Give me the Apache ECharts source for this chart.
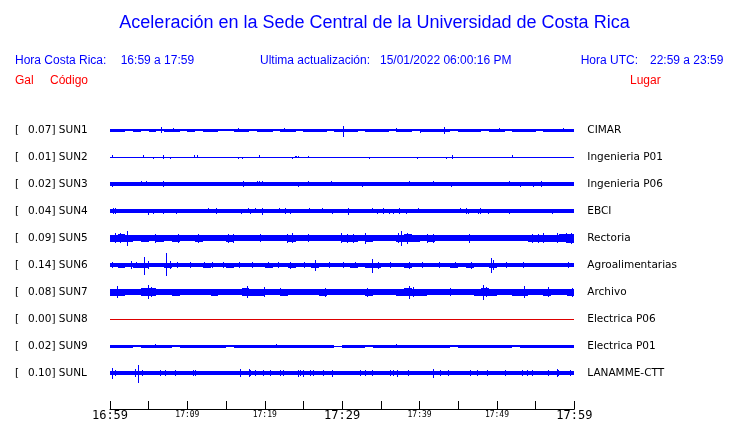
<!DOCTYPE html>
<html>
<head>
<meta charset="utf-8">
<script src="https://cdn.jsdelivr.net/npm/echarts@6/dist/echarts.min.js"></script>
<style>
  html, body { margin: 0; padding: 0; background: #fff; }
  #chart { width: 740px; height: 423px; }
</style>
</head>
<body>
<div id="chart"></div>
<script>
// ---------------- DATA ----------------
const TITLE = 'Aceleración en la Sede Central de la Universidad de Costa Rica';
const HORA_CR = '16:59 a 17:59';
const HORA_UTC = '22:59 a 23:59';
const ULTIMA = '15/01/2022 06:00:16 PM';

const CODES  = ['SUN1','SUN2','SUN3','SUN4','SUN5','SUN6','SUN7','SUN8','SUN9','SUNL'];
const GAL    = ['0.07','0.01','0.02','0.04','0.09','0.14','0.08','0.00','0.02','0.10'];
const PLACES = ['CIMAR','Ingenieria P01','Ingenieria P06','EBCI','Rectoria','Agroalimentarias','Archivo','Electrica P06','Electrica P01','LANAMME-CTT'];

// time axis: minutes after 16:59, tick every 5 minutes
const TIME_LABELS = ['16:59','','17:09','','17:19','','17:29','','17:39','','17:49','','17:59'];
const BIG_LABELS = ['16:59','17:29','17:59'];

// per-minute envelope half-widths (display units) for each station, minutes 0..59
const amp_SUN1 = [1.5,1.5,1.0,1.5,1.2,1.5,1.0,1.5,1.5,1.2,1.5,1.0,1.5,1.5,1.2,1.0,1.5,1.5,1.2,1.5,1.5,1.0,1.5,1.5,1.2,1.5,1.5,1.5,1.2,1.5,1.5,1.5,1.2,1.5,1.5,1.5,1.2,1.5,1.5,1.2,1.5,1.5,1.5,1.5,1.2,1.5,1.5,1.5,1.2,1.5,1.5,1.2,1.5,1.5,1.5,1.2,1.5,1.5,1.5,1.5];
const amp_SUN2 = [0.5,0.5,0.5,0.5,0.5,0.5,0.5,0.5,0.5,0.5,0.5,0.5,0.5,0.5,0.5,0.5,0.5,0.5,0.5,0.5,0.5,0.5,0.5,0.5,0.5,0.5,0.5,0.5,0.5,0.5,0.5,0.5,0.5,0.5,0.5,0.5,0.5,0.5,0.5,0.5,0.5,0.5,0.5,0.5,0.5,0.5,0.5,0.5,0.5,0.5,0.5,0.5,0.5,0.5,0.5,0.5,0.5,0.5,0.5,0.5];
const amp_SUN3 = [1.8,1.8,1.8,1.8,1.8,1.8,1.8,1.8,1.8,1.8,1.8,1.8,1.8,1.8,1.8,1.8,1.8,1.8,1.8,1.8,1.8,1.8,1.8,1.8,1.8,1.8,1.8,1.8,1.8,1.8,1.8,1.8,1.8,1.8,1.8,1.8,1.8,1.8,1.8,1.8,1.8,1.8,1.8,1.8,1.8,1.8,1.8,1.8,1.8,1.8,1.8,1.8,1.8,1.8,1.8,1.8,1.8,1.8,1.8,1.8];
const amp_SUN4 = [2.2,1.8,1.8,1.8,1.8,1.8,1.8,1.8,1.8,1.8,1.8,1.8,1.8,1.8,1.8,1.8,1.8,1.8,1.8,1.8,1.8,1.8,1.8,1.8,1.8,1.8,1.8,1.8,1.8,1.8,1.8,1.8,1.8,1.8,1.8,1.8,1.8,1.8,1.8,1.8,1.8,1.8,1.8,1.8,1.8,1.8,1.8,1.8,1.8,1.8,1.8,1.8,1.8,1.8,1.8,1.8,1.8,1.8,1.8,1.8];
const amp_SUN5 = [3.5,4.0,3.5,3.0,3.5,3.0,3.5,3.0,3.5,3.0,3.0,3.5,3.0,3.0,3.0,3.5,3.0,3.0,3.0,3.0,3.0,3.0,3.0,3.5,3.0,3.0,3.0,3.0,3.0,3.0,3.5,3.5,3.0,3.5,3.0,3.0,3.0,3.5,4.0,3.5,3.0,3.5,3.0,3.0,3.0,3.0,3.0,3.0,3.0,3.0,3.0,3.0,3.0,3.0,3.5,3.5,3.5,3.5,4.0,4.5];
const amp_SUN6 = [2.0,2.5,2.0,2.5,2.5,2.0,2.0,2.5,2.0,2.0,2.0,2.0,2.5,2.0,2.0,2.5,2.0,2.0,2.0,2.0,2.5,2.0,2.0,2.5,2.0,2.0,2.5,2.0,2.0,2.0,2.0,2.5,2.0,2.5,2.5,2.0,2.0,2.0,2.5,2.0,2.0,2.0,2.0,2.0,2.5,2.0,2.5,2.0,2.0,2.5,2.0,2.0,2.0,2.0,2.0,2.0,2.0,2.0,2.0,2.0];
const amp_SUN7 = [3.5,3.5,3.0,3.0,4.0,4.0,3.0,3.0,3.5,3.0,3.0,3.0,3.0,3.5,3.0,3.0,3.0,4.0,3.5,3.5,3.0,3.0,3.5,3.0,3.0,3.0,3.0,3.5,3.0,3.0,3.0,3.0,3.0,3.5,3.0,3.0,3.0,3.5,4.0,3.5,3.5,3.0,3.0,3.0,3.0,3.0,3.0,3.5,4.0,3.5,3.0,3.0,3.5,3.5,3.0,3.0,3.5,3.0,3.0,3.5];
const amp_SUN8 = [0,0,0,0,0,0,0,0,0,0,0,0,0,0,0,0,0,0,0,0,0,0,0,0,0,0,0,0,0,0,0,0,0,0,0,0,0,0,0,0,0,0,0,0,0,0,0,0,0,0,0,0,0,0,0,0,0,0,0,0];
const amp_SUN9 = [1.5,1.5,1.5,1.0,1.5,1.5,1.5,1.5,1.0,1.5,1.5,1.5,1.5,1.5,1.5,1.0,1.5,1.5,1.5,1.5,1.5,1.5,1.5,1.5,1.5,1.5,1.5,1.5,1.5,0.5,1.5,1.5,1.5,1.0,1.5,1.5,1.5,1.5,1.5,1.5,1.5,1.5,1.5,1.5,1.0,1.5,1.5,1.5,1.5,1.5,1.5,1.5,1.0,1.5,1.5,1.5,1.5,1.5,1.5,1.5];
const amp_SUNL = [2.0,1.8,1.8,1.8,1.8,1.8,1.8,1.8,1.8,1.8,1.8,1.8,1.8,1.8,1.8,1.8,1.8,1.8,1.8,1.8,1.8,1.8,1.8,1.8,1.8,1.8,1.8,1.8,1.8,1.8,1.8,1.8,1.8,1.8,1.8,1.8,1.8,1.8,1.8,1.8,1.8,1.8,1.8,1.8,1.8,1.8,1.8,1.8,1.8,1.8,1.8,1.8,1.8,1.8,1.8,1.8,1.8,1.8,1.8,1.8];

// short spikes: [minute, up, down]
const spk_SUN1 = [[6.6,3,3],[16.5,2.5,1.5],[30.1,4,6.5],[40.0,1.5,2.5],[43.2,3.5,4],[8.2,2,2],[22.5,2,2],[36.9,2,2],[50.3,2,2],[58.6,2,2]];
const spk_SUN2 = [[0.2,2,0.5],[4.2,2,0.5],[5.5,0.5,1.5],[6.9,2,2],[7.8,0.5,1.5],[10.9,2,0.5],[11.2,2,0.5],[16.5,0.5,1.5],[17.1,0.5,2],[19.2,2,0.5],[23.5,0.5,1.5],[23.9,1.5,0.5],[24.1,1.5,0.5],[24.3,1.5,0.5],[25.6,1.5,0.5],[33.5,0.5,1.5],[39.7,0.5,1.5],[43.4,0.5,1.5],[44.2,2.5,2],[52.0,2,0.5]];
const spk_SUN3 = [[0.2,1.8,3],[4.0,3,1.8],[4.65,3,1.8],[6.9,3,3],[17.2,3,3],[19.0,3,2],[19.3,3,2],[19.6,3,2],[24.3,1.8,3],[25.6,3,1.8],[28.5,3,2],[32.6,1.8,3],[38.6,3.5,2],[41.8,3,1.8],[44.1,1.8,3],[51.5,3,1.8],[53.0,1.8,3],[54.7,1.8,3],[55.7,3,3]];
const spk_SUN4 = [[0.4,3,3],[0.6,3,3],[4.9,1.8,4],[5.6,2.5,2.5],[6.9,1.8,3],[8.5,1.8,3],[12.7,3,1.8],[13.7,3,3],[16.9,2.5,2.5],[17.8,3,2],[18.1,2.5,2.5],[18.8,3,2],[19.7,3,3.5],[21.8,3,1.8],[22.6,3,3],[23.2,2.5,2.5],[25.7,3,1.8],[27.4,3,1.8],[28.7,1.8,3],[30.8,3.5,3.5],[33.9,3,2],[34.5,2.5,2.5],[35.3,3,2.5],[36.1,2.5,2.5],[36.6,2.5,3],[37.3,3,3],[38.2,2.5,2.5],[39.8,3,1.8],[45.2,3,1.8],[46.0,3,2.5],[46.3,2.5,2.5],[47.6,2.5,2.5],[47.8,3,2.5],[48.8,2.5,2.5],[51.5,1.8,3],[57.1,1.8,3]];
const spk_SUN5 = [[0.6,5,5],[1.3,5,4.5],[2.2,7.5,7.5],[5.8,4.5,5],[8.8,4.5,4.5],[11.4,4.5,4.5],[15.2,4.5,4.5],[15.9,4.5,5],[19.4,4.5,4],[22.9,4.5,4.5],[23.5,5,4.5],[25.6,4.5,4],[29.9,5,5],[30.6,4.5,4.5],[31.4,4.5,5],[33.0,5,6],[37.2,5.5,5],[37.6,7.5,7.5],[38.4,5,5.5],[41.0,4.5,4.5],[41.7,4.5,5],[46.4,4.5,4.5],[54.5,4.5,4.5],[55.3,4.5,5],[56.0,5,4.5],[57.8,5,5],[58.9,5.5,5],[59.6,5,5.5]];
const spk_SUN6 = [[0.3,3,3],[2.7,4,4],[3.3,3,3],[4.4,7.7,10],[4.9,4,4],[7.2,11.7,10.7],[7.8,4,4],[8.6,3,3],[10.3,3,3],[12.1,3,3],[13.2,3,3],[14.6,3,3],[16.7,3,3],[18.4,3,3],[20.4,3,3],[21.7,3,3],[23.2,3,4],[25.1,3,3],[26.5,5,5.5],[28.3,3,3],[30.1,3,3],[31.6,3,3],[33.9,6,7.7],[34.6,3.5,3.5],[36.2,3,3],[38.6,3.5,3.5],[40.3,3,3],[42.5,3,3],[44.6,3,3],[46.6,3.5,3.5],[49.3,7.5,7.5],[49.5,5,5],[51.2,3,3],[53.4,3,3],[59.2,3,3]];
const spk_SUN7 = [[0.9,6,6],[4.9,7,6.5],[5.3,5,5],[17.7,6,6],[19.9,5,5],[22.0,4,4],[27.8,4.5,4.5],[33.2,4.5,4.5],[38.6,6,7],[39.1,5,5],[44.0,4.5,4],[48.2,7.5,8],[48.6,5,5],[53.5,6,6],[56.6,5,5],[59.7,4.5,4.5]];
const spk_SUN8 = [];
const spk_SUN9 = [[5.8,2,2],[21.4,2,1.5],[37.0,2,2],[49.7,1.5,2]];
const spk_SUNL = [[0.3,5.5,5.5],[0.7,3,3],[3.2,4,4],[3.65,8,9.7],[4.1,3,3],[6.5,3,3],[7.1,3,3],[8.4,3,3],[10.7,3,3],[11.0,3,3],[16.8,4,4],[17.9,4,4],[18.1,3,3],[18.7,3,3],[19.8,3,3],[20.7,3,3],[22.0,3,3],[22.4,3,3],[24.3,3.5,3.5],[24.6,3,3],[24.9,3.5,3.5],[25.8,3,3],[26.2,3,3],[27.5,3,3],[28.7,3.5,3.5],[32.3,3,3],[33.0,3,3],[33.8,3,3],[36.2,3,3],[36.6,3,3],[37.1,3.5,3.5],[38.5,3,3],[41.7,4.5,4.5],[42.6,3,3],[43.7,3,3],[46.5,3,3],[47.4,3,3],[48.7,3,3],[51.0,3,3],[53.2,3,3],[53.9,3,3],[54.5,3,3],[56.6,3,3],[57.7,4,4],[57.9,3,3],[59.4,3,3]];

const AMPS   = [amp_SUN1, amp_SUN2, amp_SUN3, amp_SUN4, amp_SUN5, amp_SUN6, amp_SUN7, amp_SUN8, amp_SUN9, amp_SUNL];
const SPIKES = [spk_SUN1, spk_SUN2, spk_SUN3, spk_SUN4, spk_SUN5, spk_SUN6, spk_SUN7, spk_SUN8, spk_SUN9, spk_SUNL];

// ---------------- LAYOUT / STYLE ----------------
const ROW = 27;             // vertical spacing between traces (axis units)
const SPIKE_W = 0.129;      // spike width in minutes (~1px)
const BLUE = '#0000ff';
const RED = '#ff0000';
const chart = echarts.init(document.getElementById('chart'), null, { renderer: 'canvas' });

function rowValue(i) { return ROW * (i + 1); }

function makeSeries(i) {
  const data = [];
  AMPS[i].forEach((a, m) => data.push([m, m + 1, a, a]));
  SPIKES[i].forEach(s => data.push([s[0], s[0] + SPIKE_W, s[1], s[2]]));
  const cy = rowValue(i);
  const color = GAL[i] === '0.00' ? '#dd0000' : BLUE;
  return {
    type: 'custom',
    coordinateSystem: 'cartesian2d',
    silent: true,
    data: data,
    encode: { x: [0, 1] },
    renderItem: function (params, api) {
      const m0 = api.value(0), m1 = api.value(1), up = api.value(2), dn = api.value(3);
      const p0 = api.coord([m0, cy - up]);
      const p1 = api.coord([m1, cy + dn]);
      const x0 = Math.round(p0[0]);
      const x1 = Math.max(x0 + 1, Math.round(p1[0]));
      const y0 = Math.round(p0[1]);
      const y1 = Math.max(y0 + 1, Math.round(p1[1]));
      return {
        type: 'rect',
        shape: { x: x0, y: y0, width: x1 - x0, height: y1 - y0 },
        style: { fill: color }
      };
    }
  };
}

const LABEL_FONT = 'DejaVu Sans';
const HEAD_FONT = '"Liberation Sans", Arial, sans-serif';

const option = {
  animation: false,
  backgroundColor: '#ffffff',
  grid: { left: 110, top: 103, width: 464.3, height: 306, containLabel: false },
  xAxis: {
    type: 'value', min: 0, max: 60, interval: 5, position: 'bottom',
    axisLine: { show: true, onZero: false, lineStyle: { color: '#000', width: 1 } },
    axisTick: { show: true, inside: true, length: 8, lineStyle: { color: '#000', width: 1 } },
    splitLine: { show: false },
    axisLabel: {
      show: true, margin: 1, showMinLabel: true, showMaxLabel: true,
      fontFamily: 'DejaVu Sans Mono', fontSize: 8, lineHeight: 10,
      formatter: function (v) {
        const t = TIME_LABELS[Math.round(v / 5)];
        if (!t) return '';
        return BIG_LABELS.indexOf(t) >= 0 ? '{big|' + t + '}' : '{small|' + t + '}';
      },
      rich: {
        big: { fontFamily: 'DejaVu Sans Mono', fontSize: 12, lineHeight: 12, color: '#000' },
        small: { fontFamily: 'DejaVu Sans Mono', fontSize: 8, lineHeight: 10, color: '#000' }
      }
    }
  },
  yAxis: [
    {
      type: 'value', min: 0, max: 306, interval: ROW, inverse: true, position: 'left',
      axisLine: { show: false }, axisTick: { show: false }, splitLine: { show: false },
      axisLabel: {
        show: true, align: 'left', margin: 95,
        fontFamily: LABEL_FONT, fontSize: 10.5, color: '#000',
        formatter: function (v) {
          const i = Math.round(v / ROW) - 1;
          if (Math.abs(v / ROW - Math.round(v / ROW)) > 1e-6 || i < 0 || i >= CODES.length) return '';
          return '{br|[}{g|' + GAL[i] + ']} ' + CODES[i];
        },
        rich: {
          br: { fontFamily: LABEL_FONT, fontSize: 10.5, color: '#000', width: 13 },
          g: { fontFamily: LABEL_FONT, fontSize: 10.5, color: '#000' }
        }
      }
    },
    {
      type: 'value', min: 0, max: 306, interval: ROW, inverse: true, position: 'right',
      axisLine: { show: false }, axisTick: { show: false }, splitLine: { show: false },
      axisLabel: {
        show: true, align: 'left', margin: 13,
        fontFamily: LABEL_FONT, fontSize: 10.5, color: '#000',
        formatter: function (v) {
          const i = Math.round(v / ROW) - 1;
          if (Math.abs(v / ROW - Math.round(v / ROW)) > 1e-6 || i < 0 || i >= PLACES.length) return '';
          return PLACES[i];
        }
      }
    }
  ],
  graphic: [
    { type: 'text', x: 374.5, y: 23, silent: true,
      style: { text: TITLE, font: '18px ' + HEAD_FONT, fill: BLUE, align: 'center', verticalAlign: 'middle' } },
    { type: 'text', x: 15, y: 61, silent: true,
      style: { text: 'Hora Costa Rica:', font: '12px ' + HEAD_FONT, fill: BLUE, align: 'left', verticalAlign: 'middle' } },
    { type: 'text', x: 120.7, y: 61, silent: true,
      style: { text: HORA_CR, font: '12px ' + HEAD_FONT, fill: BLUE, align: 'left', verticalAlign: 'middle' } },
    { type: 'text', x: 260, y: 61, silent: true,
      style: { text: 'Ultima actualización:', font: '12px ' + HEAD_FONT, fill: BLUE, align: 'left', verticalAlign: 'middle' } },
    { type: 'text', x: 380, y: 61, silent: true,
      style: { text: ULTIMA, font: '12px ' + HEAD_FONT, fill: BLUE, align: 'left', verticalAlign: 'middle' } },
    { type: 'text', x: 580.7, y: 61, silent: true,
      style: { text: 'Hora UTC:', font: '12px ' + HEAD_FONT, fill: BLUE, align: 'left', verticalAlign: 'middle' } },
    { type: 'text', x: 650, y: 61, silent: true,
      style: { text: HORA_UTC, font: '12px ' + HEAD_FONT, fill: BLUE, align: 'left', verticalAlign: 'middle' } },
    { type: 'text', x: 15, y: 81, silent: true,
      style: { text: 'Gal', font: '12px ' + HEAD_FONT, fill: RED, align: 'left', verticalAlign: 'middle' } },
    { type: 'text', x: 50, y: 81, silent: true,
      style: { text: 'Código', font: '12px ' + HEAD_FONT, fill: RED, align: 'left', verticalAlign: 'middle' } },
    { type: 'text', x: 630, y: 81, silent: true,
      style: { text: 'Lugar', font: '12px ' + HEAD_FONT, fill: RED, align: 'left', verticalAlign: 'middle' } }
  ],
  series: CODES.map((c, i) => makeSeries(i))
};

chart.setOption(option);
</script>
</body>
</html>
